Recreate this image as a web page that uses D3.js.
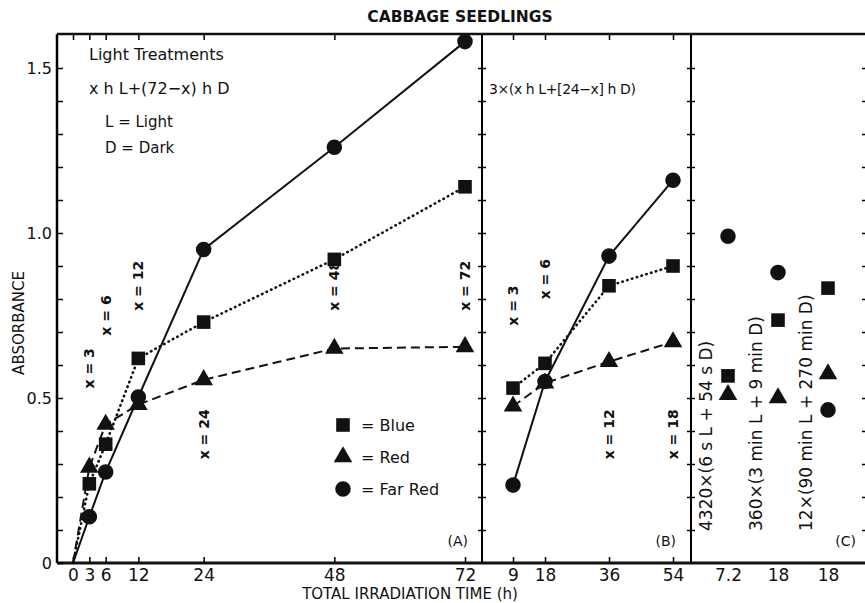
<!DOCTYPE html>
<html lang="en">
<head>
<meta charset="UTF-8">
<title>Cabbage Seedlings</title>
<script src="https://d3js.org/d3.v7.min.js"></script>
<style>
  body { margin: 0; background: #fff; }
  svg text { font-family: "DejaVu Sans", sans-serif; fill: #111; }
</style>
</head>
<body>
<svg id="chart" width="865" height="603"></svg>
<script>
// panel A: x h L + (72-x) h D
var hoursA = [0, 3, 6, 12, 24, 48, 72];
var blueA = [0, 0.24, 0.36, 0.62, 0.73, 0.92, 1.14];
var redA = [0, 0.29, 0.42, 0.48, 0.555, 0.65, 0.655];
var farRedA = [0, 0.14, 0.276, 0.503, 0.95, 1.26, 1.58];
var tickLabelsA = [0, 3, 6, 12, 24, 48, 72];

// panel B: 3 x (x h L + [24-x] h D)
var hoursB = [9, 18, 36, 54];
var blueB = [0.53, 0.605, 0.84, 0.90];
var redB = [0.475, 0.545, 0.61, 0.67];
var farRedB = [0.236, 0.55, 0.93, 1.16];

// panel C: intermittent cycles
var cyclesC = ["4320\u00d7(6 s L + 54 s D)", "360\u00d7(3 min L + 9 min D)", "12\u00d7(90 min L + 270 min D)"];
var tickLabelsC = ["7.2", "18", "18"];
var blueC = [0.567, 0.736, 0.833];
var redC = [0.51, 0.50, 0.573];
var farRedC = [0.99, 0.88, 0.464];

// rotated x = ... notes
var notesA = [{x: 3, v: 0.59, t: "x = 3"}, {x: 6, v: 0.75, t: "x = 6"}, {x: 12, v: 0.84, t: "x = 12"},
              {x: 24, v: 0.39, t: "x = 24"}, {x: 48, v: 0.84, t: "x = 48"}, {x: 72, v: 0.84, t: "x = 72"}];
var notesB = [{x: 9, v: 0.78, t: "x = 3"}, {x: 18, v: 0.86, t: "x = 6"},
              {x: 36, v: 0.39, t: "x = 12"}, {x: 54, v: 0.39, t: "x = 18"}];

var svg = d3.select("#chart");
var y = d3.scaleLinear().domain([0, 1.6]).range([563, 35]);
var xA = d3.scaleLinear().domain([0, 72]).range([73, 465]);
var xB = d3.scaleLinear().domain([0, 54]).range([481, 673]);
var xC = d3.scalePoint().domain(d3.range(3)).range([728, 828]);

// note: "top" is window.top, so use other names
var axLeft = 57, bAx = 482, cAx = 691, rAx = 866, yTop = 34, yBot = 563;
var yTicks = d3.range(1, 16).map(d => d / 10);

// frame
svg.append("line").attr("x1", axLeft).attr("x2", 865).attr("y1", yTop).attr("y2", yTop)
    .attr("stroke", "#111").attr("stroke-width", 2.5);
svg.append("line").attr("x1", axLeft).attr("x2", 865).attr("y1", yBot).attr("y2", yBot)
    .attr("stroke", "#111").attr("stroke-width", 3);

// left axis
var yAxis = d3.axisLeft(y).tickValues([0].concat(yTicks)).tickSizeInner(-6).tickSizeOuter(0).tickPadding(5)
    .tickFormat(d => d == 0 ? "0" : (Math.abs(d * 2 - Math.round(d * 2)) < 1e-6 ? d3.format(".1f")(d) : ""));
var gy = svg.append("g").attr("transform", "translate(" + axLeft + ",0)").call(yAxis);
gy.select(".domain").attr("stroke-width", 2.5).attr("d", "M0," + yTop + "V" + yBot);
gy.selectAll("line").attr("stroke-width", 1.5);
gy.selectAll("text").style("font-size", "16px");

// inner borders with crossing ticks
[bAx, cAx, rAx].forEach(function (px) {
  var g1 = svg.append("g").attr("transform", "translate(" + px + ",0)")
      .call(d3.axisLeft(y).tickValues(yTicks).tickSize(4).tickFormat(""));
  var g2 = svg.append("g").attr("transform", "translate(" + px + ",0)")
      .call(d3.axisRight(y).tickValues(yTicks).tickSize(4).tickFormat(""));
  g1.select(".domain").attr("stroke-width", 2).attr("d", "M0," + yTop + "V" + yBot);
  g2.select(".domain").remove();
  g1.selectAll("line").attr("stroke-width", 1.5);
  g2.selectAll("line").attr("stroke-width", 1.5);
});

// bottom and top ticks
function xAxes(scale, vals, labels) {
  var gb = svg.append("g").attr("transform", "translate(0," + yBot + ")")
      .call(d3.axisBottom(scale).tickValues(vals).tickSizeInner(-6).tickSizeOuter(0).tickPadding(6)
          .tickFormat((d, i) => labels[i]));
  gb.select(".domain").remove();
  gb.selectAll("line").attr("stroke-width", 1.5);
  gb.selectAll("text").style("font-size", "17px");
  var gt = svg.append("g").attr("transform", "translate(0," + yTop + ")")
      .call(d3.axisTop(scale).tickValues(vals).tickSizeInner(-6).tickSizeOuter(0).tickFormat(""));
  gt.select(".domain").remove();
  gt.selectAll("line").attr("stroke-width", 1.5);
}
xAxes(xA, hoursA, tickLabelsA);
xAxes(xB, hoursB, hoursB);
var gc = svg.append("g").attr("transform", "translate(0," + yBot + ")")
    .call(d3.axisBottom(xC).tickSize(0).tickPadding(6).tickFormat((d, i) => tickLabelsC[i]));
gc.select(".domain").remove();
gc.selectAll("text").style("font-size", "17px");

// series lines
var styles = {
  blue: {dash: "0.5,4.5", width: 2.6, cap: "round"},
  red: {dash: "9,5", width: 2, cap: "butt"},
  far: {dash: null, width: 2, cap: "butt"}
};
function drawLine(xs, vs, sx, st) {
  var line = d3.line().x((d, i) => sx(xs[i])).y(d => y(d));
  svg.append("path").datum(vs).attr("d", line).attr("fill", "none").attr("stroke", "#111")
      .attr("stroke-width", st.width).attr("stroke-dasharray", st.dash).attr("stroke-linecap", st.cap);
}
drawLine(hoursA, blueA, xA, styles.blue);
drawLine(hoursA, redA, xA, styles.red);
drawLine(hoursA, farRedA, xA, styles.far);
drawLine(hoursB, blueB, xB, styles.blue);
drawLine(hoursB, redB, xB, styles.red);
drawLine(hoursB, farRedB, xB, styles.far);

// markers (the origin point of panel A gets none)
var sym = {
  blue: d3.symbol().type(d3.symbolSquare).size(185),
  red: d3.symbol().type(d3.symbolTriangle).size(150),
  far: d3.symbol().type(d3.symbolCircle).size(190)
};
function drawMarks(xs, vs, sx, kind, skipOrigin) {
  var pts = xs.map((q, i) => [q, vs[i]]).filter(p => !(skipOrigin && p[1] === 0));
  svg.append("g").selectAll("path").data(pts).enter().append("path")
      .attr("d", sym[kind])
      .attr("transform", d => "translate(" + sx(d[0]) + "," + y(d[1]) + ")")
      .attr("fill", "#111");
}
drawMarks(hoursA, blueA, xA, "blue", true);
drawMarks(hoursA, redA, xA, "red", true);
drawMarks(hoursA, farRedA, xA, "far", true);
drawMarks(hoursB, blueB, xB, "blue");
drawMarks(hoursB, redB, xB, "red");
drawMarks(hoursB, farRedB, xB, "far");
drawMarks(d3.range(3), blueC, xC, "blue");
drawMarks(d3.range(3), redC, xC, "red");
drawMarks(d3.range(3), farRedC, xC, "far");

// rotated notes
function drawNotes(notes, sx) {
  svg.append("g").selectAll("text").data(notes).enter().append("text")
      .attr("transform", d => "translate(" + (sx(d.x) + 5) + "," + y(d.v) + ") rotate(-90)")
      .attr("text-anchor", "middle").style("font-size", "14px").style("font-weight", "bold")
      .text(d => d.t);
}
drawNotes(notesA, xA);
drawNotes(notesB, xB);
svg.append("g").selectAll("text").data(cyclesC).enter().append("text")
    .attr("transform", (d, i) => "translate(" + (xC(i) - 16) + ",531) rotate(-90)")
    .attr("text-anchor", "start").style("font-size", "17px")
    .text(d => d);

// legend
var legend = [{k: "blue", t: "= Blue"}, {k: "red", t: "= Red"}, {k: "far", t: "= Far Red"}];
var lg = svg.append("g").selectAll("g").data(legend).enter().append("g")
    .attr("transform", (d, i) => "translate(343," + (425 + i * 32) + ")");
lg.append("path").attr("d", d => sym[d.k]()).attr("fill", "#111");
lg.append("text").attr("x", 18).attr("dy", "0.35em").style("font-size", "16px").text(d => d.t);

// texts
function txt(x, yy, s, size, extra) {
  var t = svg.append("text").attr("x", x).attr("y", yy).style("font-size", size + "px").text(s);
  if (extra) extra(t);
  return t;
}
txt(460, 22, "CABBAGE SEEDLINGS", 15.5, t => t.attr("text-anchor", "middle").style("font-weight", "bold"));
txt(89, 60, "Light  Treatments", 16);
txt(89, 94, "x h L+(72\u2212x) h D", 16);
txt(105, 127, "L = Light", 15);
txt(105, 153, "D = Dark", 15);
txt(489, 94, "3\u00d7(x h L+[24\u2212x] h D)", 14, t => t.style("letter-spacing", "-0.4px"));
txt(468, 546, "(A)", 14, t => t.attr("text-anchor", "end"));
txt(676, 546, "(B)", 14, t => t.attr("text-anchor", "end"));
txt(856, 546, "(C)", 14, t => t.attr("text-anchor", "end"));
txt(410, 599, "TOTAL  IRRADIATION  TIME  (h)", 15, t => t.attr("text-anchor", "middle"));
svg.append("text").attr("transform", "translate(24,323) rotate(-90)").attr("text-anchor", "middle")
    .style("font-size", "15px").text("ABSORBANCE");
</script>
</body>
</html>
